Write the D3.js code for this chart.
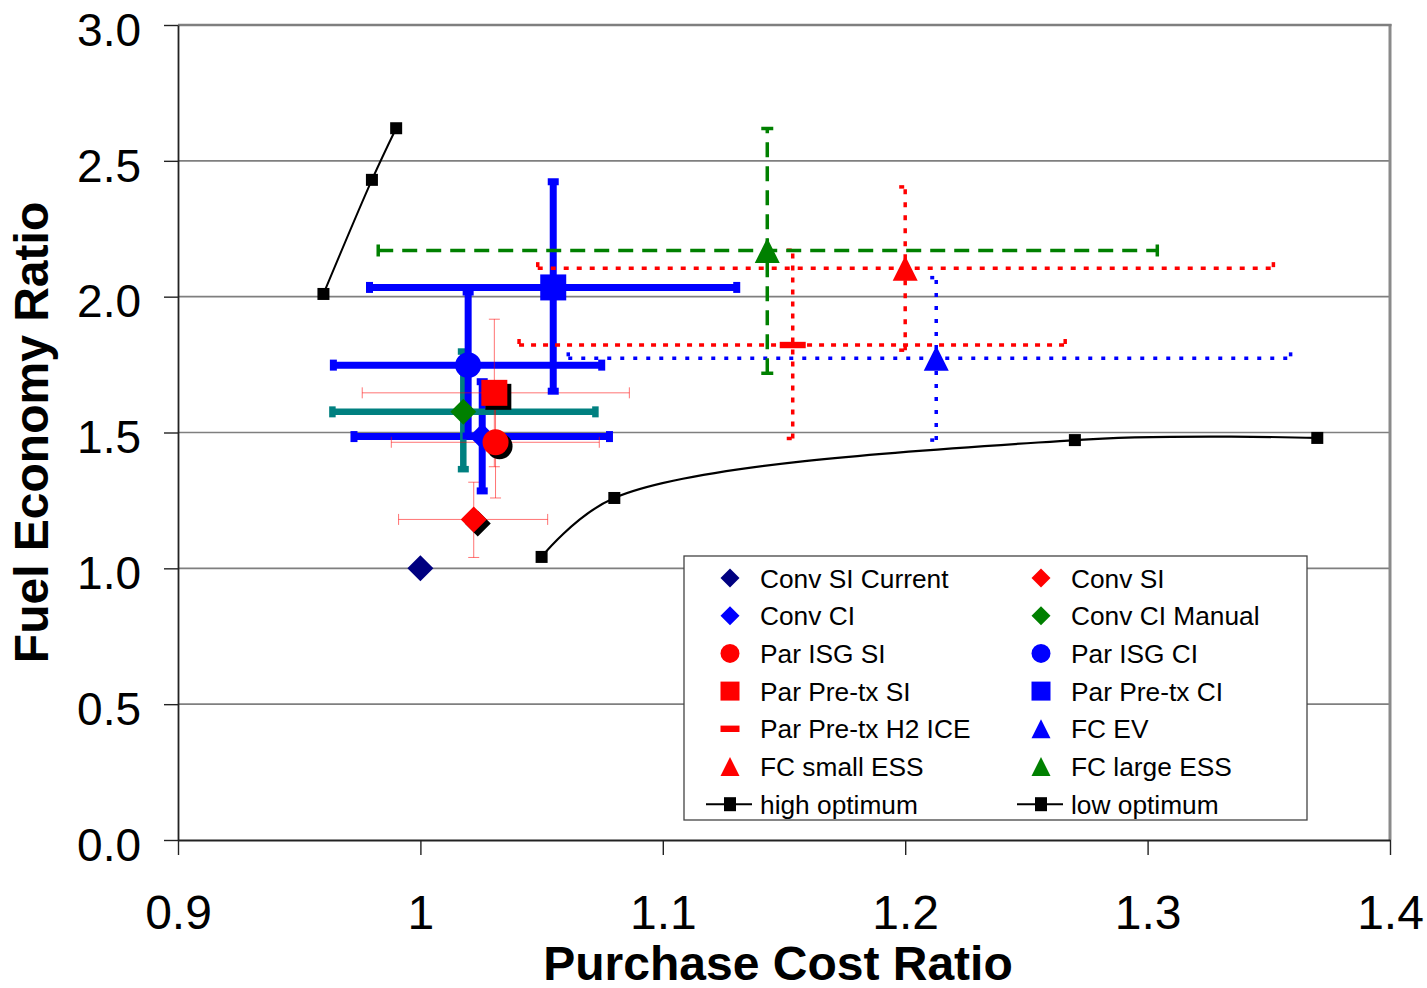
<!DOCTYPE html>
<html>
<head>
<meta charset="utf-8">
<script src="https://cdn.jsdelivr.net/npm/d3@7/dist/d3.min.js"></script>
<style>
  html, body { margin: 0; padding: 0; background: #fff; }
  svg { display: block; font-family: "Liberation Sans", Arial, sans-serif; }
</style>
</head>
<body>
<svg id="chart" width="1427" height="988"></svg>
<script>
// ---------------- DATA ----------------
const seriesNames = [
  "Conv SI Current", "Conv SI", "Conv CI", "Conv CI Manual",
  "Par ISG SI", "Par ISG CI", "Par Pre-tx SI", "Par Pre-tx CI",
  "Par Pre-tx H2 ICE", "FC EV", "FC small ESS", "FC large ESS"
];
const xValues = [1.0, 1.022, 1.0255, 1.0177, 1.031, 1.0197, 1.0305, 1.0548, 1.1536, 1.2128, 1.2, 1.1431];
const yValues = [1.0, 1.18, 1.485, 1.576, 1.464, 1.748, 1.646, 2.034, 1.822, 1.773, 2.105, 2.17];
const xLow  = [null, 0.991, 0.9726, 0.9637, 0.988, 0.9641, 0.976, 0.979, 1.0407, 1.061, 1.0484, 0.9826];
const xHigh = [null, 1.0525, 1.078, 1.0722, 1.0738, 1.0748, 1.0862, 1.1305, 1.266, 1.359, 1.3519, 1.304];
const yLow  = [null, 1.04, 1.285, 1.365, 1.259, 1.487, 1.374, 1.652, 1.478, 1.472, 1.803, 1.718];
const yHigh = [null, 1.317, 1.687, 1.798, 1.669, 2.017, 1.917, 2.423, 2.171, 2.070, 2.404, 2.619];

const lineNames = ["high optimum", "low optimum"];
const highOptX = [0.96, 0.98, 0.99];
const highOptY = [2.01, 2.43, 2.62];
const lowOptX = [1.05, 1.08, 1.27, 1.37];
const lowOptY = [1.042, 1.259, 1.472, 1.48];

const xTicks = [0.9, 1, 1.1, 1.2, 1.3, 1.4];
const yTicks = [0, 0.5, 1.0, 1.5, 2.0, 2.5, 3.0];
const xTitle = "Purchase Cost Ratio";
const yTitle = "Fuel Economy Ratio";

// ---------------- STYLES ----------------
const thickBlue = {color: "#0000ff", width: 7, dash: null, cap: 11, opacity: 1};
const thinRed = {color: "#ff0000", width: 1, dash: null, cap: 11, opacity: 0.55};
const styles = {
  "Conv SI Current":   {shape: "diamond", fill: "#000080", shadow: false, bar: null},
  "Conv SI":           {shape: "diamond", fill: "#ff0000", shadow: true, bar: thinRed},
  "Conv CI":           {shape: "diamond", fill: "#0000ff", shadow: false, bar: thickBlue},
  "Conv CI Manual":    {shape: "diamond", fill: "#008000", shadow: false, bar: {color: "#008080", width: 6.5, dash: null, cap: 11, opacity: 1}},
  "Par ISG SI":        {shape: "circle", fill: "#ff0000", shadow: true, bar: thinRed},
  "Par ISG CI":        {shape: "circle", fill: "#0000ff", shadow: false, bar: thickBlue},
  "Par Pre-tx SI":     {shape: "square", fill: "#ff0000", shadow: true, bar: thinRed},
  "Par Pre-tx CI":     {shape: "square", fill: "#0000ff", shadow: false, bar: thickBlue},
  "Par Pre-tx H2 ICE": {shape: "dash", fill: "#ff0000", shadow: false, bar: {color: "#ff0000", width: 3.5, dash: "5,7", cap: 12, opacity: 1}},
  "FC EV":             {shape: "triangle", fill: "#0000ff", shadow: false, bar: {color: "#0000ff", width: 3.5, dash: "4,9", cap: 12, opacity: 1}},
  "FC small ESS":      {shape: "triangle", fill: "#ff0000", shadow: false, bar: {color: "#ff0000", width: 3.5, dash: "5,8", cap: 12, opacity: 1}},
  "FC large ESS":      {shape: "triangle", fill: "#008000", shadow: false, bar: {color: "#008000", width: 3.5, dash: "15,9", cap: 12, opacity: 1}}
};

function shapePath(shape, s) {
  const h = s / 2;
  switch (shape) {
    case "diamond": return `M0,${-h}L${h},0L0,${h}L${-h},0Z`;
    case "square": return `M${-h},${-h}H${h}V${h}H${-h}Z`;
    case "circle": return `M${h},0A${h},${h} 0 1,1 ${-h},0A${h},${h} 0 1,1 ${h},0Z`;
    case "triangle": return `M0,${-h}L${h},${h}L${-h},${h}Z`;
    case "dash": return `M${-h},-3.2H${h}V3.2H${-h}Z`;
  }
}

// ---------------- CHART ----------------
(function () {
const svg = d3.select("#chart");
const pL = 178, pR = 1390, pT = 25, pB = 840;
const x = d3.scaleLinear().domain([0.9, 1.4]).range([pL, pR]);
const y = d3.scaleLinear().domain([0, 3]).range([pB, pT]);

// gridlines
svg.append("g").selectAll("line").data(yTicks.filter(d => d > 0)).join("line")
  .attr("x1", pL).attr("x2", pR)
  .attr("y1", d => y(d)).attr("y2", d => y(d))
  .attr("stroke", "#7f7f7f").attr("stroke-width", 1.6);
svg.append("line").attr("x1", pR).attr("x2", pR).attr("y1", pT - 1).attr("y2", pB)
  .attr("stroke", "#8a8a8a").attr("stroke-width", 3);
svg.append("line").attr("x1", pL).attr("x2", pR + 1.5).attr("y1", pT).attr("y2", pT)
  .attr("stroke", "#7f7f7f").attr("stroke-width", 2.4);

// axes
const yAxis = svg.append("g").attr("transform", `translate(${pL},0)`)
  .call(d3.axisLeft(y).tickValues(yTicks).tickFormat(d3.format(".1f")).tickSize(14).tickSizeOuter(0).tickPadding(23));
yAxis.selectAll("text").attr("dy", "0.44em").style("font-size", "46px").attr("fill", "#000");
yAxis.selectAll("line").attr("stroke", "#222").attr("stroke-width", 1.4);
yAxis.select(".domain").attr("stroke", "#222").attr("stroke-width", 1.8);

const xAxis = svg.append("g").attr("transform", `translate(0,${pB})`)
  .call(d3.axisBottom(x).tickValues(xTicks).tickFormat(d => String(d)).tickSize(15).tickSizeOuter(0).tickPadding(40));
xAxis.selectAll("text").style("font-size", "48px").attr("fill", "#000");
xAxis.selectAll("line").attr("stroke", "#222").attr("stroke-width", 1.4);
xAxis.select(".domain").attr("stroke", "#222").attr("stroke-width", 2);

// axis titles
svg.append("text").attr("x", (pL + pR) / 2 - 6).attr("y", 980)
  .attr("text-anchor", "middle").style("font-size", "48px").style("font-weight", "bold").text(xTitle);
svg.append("text").attr("transform", `translate(48,${(pT + pB) / 2}) rotate(-90)`)
  .attr("text-anchor", "middle").style("font-size", "48px").style("font-weight", "bold").text(yTitle);

// optimum lines
const lineGen = d3.line().x(d => x(d[0])).y(d => y(d[1])).curve(d3.curveCatmullRom.alpha(0.5));
const highPts = highOptX.map((v, i) => [v, highOptY[i]]);
const lowPts = lowOptX.map((v, i) => [v, lowOptY[i]]);
svg.append("path").attr("d", lineGen(highPts))
  .attr("fill", "none").attr("stroke", "#000").attr("stroke-width", 2);
svg.append("path").attr("d", lineGen(lowPts))
  .attr("fill", "none").attr("stroke", "#000").attr("stroke-width", 2.2);
[highPts, lowPts].forEach(pts => {
  svg.append("g").selectAll("rect").data(pts).join("rect")
    .attr("x", d => x(d[0]) - 6).attr("y", d => y(d[1]) - 6)
    .attr("width", 12).attr("height", 12).attr("fill", "#000");
});

// error bars
const gBars = svg.append("g");
seriesNames.forEach((name, i) => {
  const st = styles[name].bar;
  if (!st || xLow[i] == null) return;
  const g = gBars.append("g").attr("stroke", st.color).attr("stroke-width", st.width)
    .attr("stroke-opacity", st.opacity).attr("fill", "none");
  if (st.dash) g.attr("stroke-dasharray", st.dash);
  const cx = x(xValues[i]), cy = y(yValues[i]);
  const c = st.cap / 2;
  g.append("line").attr("x1", x(xLow[i])).attr("x2", x(xHigh[i])).attr("y1", cy).attr("y2", cy);
  g.append("line").attr("x1", x(xLow[i])).attr("x2", x(xLow[i])).attr("y1", cy - c).attr("y2", cy + c);
  g.append("line").attr("x1", x(xHigh[i])).attr("x2", x(xHigh[i])).attr("y1", cy - c).attr("y2", cy + c);
  g.append("line").attr("x1", cx).attr("x2", cx).attr("y1", y(yLow[i])).attr("y2", y(yHigh[i]));
  g.append("line").attr("x1", cx - c).attr("x2", cx + c).attr("y1", y(yLow[i])).attr("y2", y(yLow[i]));
  g.append("line").attr("x1", cx - c).attr("x2", cx + c).attr("y1", y(yHigh[i])).attr("y2", y(yHigh[i]));
});

// markers
const gMarks = svg.append("g");
seriesNames.forEach((name, i) => {
  const st = styles[name];
  const size = st.shape === "triangle" ? 25 : 26;
  const px = x(xValues[i]), py = y(yValues[i]);
  if (st.shadow) {
    gMarks.append("path").attr("d", shapePath(st.shape, size))
      .attr("transform", `translate(${px + 4},${py + 4})`).attr("fill", "#000");
  }
  gMarks.append("path").attr("d", shapePath(st.shape, size))
    .attr("transform", `translate(${px},${py})`).attr("fill", st.fill);
});

// legend
const lg = svg.append("g");
lg.append("rect").attr("x", 684).attr("y", 556).attr("width", 623).attr("height", 264)
  .attr("fill", "#fff").attr("stroke", "#444").attr("stroke-width", 1.3);
const legendItems = seriesNames.map(n => ({name: n, line: false})).concat(lineNames.map(n => ({name: n, line: true})));
const rowY0 = 578, rowStep = 37.7;
legendItems.forEach((it, k) => {
  const col = k % 2, row = Math.floor(k / 2);
  const mx = col === 0 ? 730 : 1041;
  const tx = col === 0 ? 760 : 1071;
  const yy = rowY0 + row * rowStep;
  if (it.line) {
    lg.append("line").attr("x1", mx - 24).attr("x2", mx + 22).attr("y1", yy).attr("y2", yy)
      .attr("stroke", "#000").attr("stroke-width", 2);
    lg.append("rect").attr("x", mx - 6).attr("y", yy - 7).attr("width", 12).attr("height", 14).attr("fill", "#000");
  } else {
    const st = styles[it.name];
    lg.append("path").attr("d", shapePath(st.shape, 19))
      .attr("transform", `translate(${mx},${yy})`).attr("fill", st.fill);
  }
  lg.append("text").attr("x", tx).attr("y", yy + 9.5).style("font-size", "26.3px").attr("fill", "#000").text(it.name);
});
})();
</script>
</body>
</html>
